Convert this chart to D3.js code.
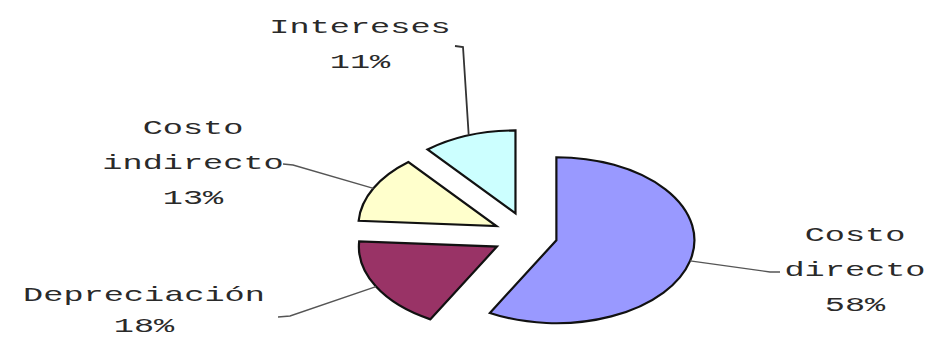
<!DOCTYPE html>
<html>
<head>
<meta charset="utf-8">
<script src="https://cdn.jsdelivr.net/npm/d3@7"></script>
<style>
  html, body { margin: 0; padding: 0; background: #fff; }
  svg { display: block; }
  .lbl { font-family: "Liberation Mono", "DejaVu Sans Mono", monospace; fill: #2a2a2a; }
</style>
</head>
<body>
<svg id="chart" width="925" height="339"></svg>
<script>
// Cost breakdown (percent of total), clockwise from 12 o'clock
const categories = ["Costo directo", "Depreciación", "Costo indirecto", "Intereses"];
const values = [58, 18, 13, 11];
const labelLines = [["Costo", "directo"], ["Depreciación"], ["Costo", "indirecto"], ["Intereses"]];
const colors = ["#9999ff", "#993366", "#ffffcc", "#ccffff"];

// Pie geometry: the pie is drawn as an ellipse (horizontal stretch sx)
const W = 925, H = 339;
const cx = 529, cy = 236;
const ry = 83, sx = 1.663;
const explode = [17, 22, 22, 24];

// Label placement: text centre x, first baseline y, line gap and leader-line elbow points
const labelLayout = [
  { x: 855, y: 241, gap: 35, elbow: [[770, 272], [780, 272]] },
  { x: 144, y: 301, gap: 31, elbow: [[290, 316], [278, 317]] },
  { x: 193, y: 134, gap: 35, elbow: [[293, 165], [283, 164]] },
  { x: 360, y: 33, gap: 35, elbow: [[463, 47], [455, 46]] }
];
const fontSize = 21;
const textSx = 1.6;

const svg = d3.select("#chart");

const pie = d3.pie().sort(null).value(d => d).startAngle(0).endAngle(2 * Math.PI);
const arcs = pie(values);
const arc = d3.arc().innerRadius(0).outerRadius(ry);

// point on the ellipse for a given angle (clockwise from top), relative to a slice centre
const ellipsePt = (a, r) => [Math.sin(a) * r * sx, -Math.cos(a) * r];

arcs.forEach((a, i) => {
  const mid = (a.startAngle + a.endAngle) / 2;
  const off = ellipsePt(mid, explode[i]);
  const sc = [cx + off[0], cy + off[1]];

  svg.append("g")
    .attr("transform", `translate(${sc[0]},${sc[1]}) scale(${sx},1)`)
    .append("path")
    .attr("d", arc(a))
    .attr("fill", colors[i])
    .attr("stroke", "#111")
    .attr("stroke-width", 2.2)
    .attr("stroke-linejoin", "miter")
    .attr("vector-effect", "non-scaling-stroke");

  // leader line from the arc at the slice's mid angle to the label
  const edge = ellipsePt(mid, ry);
  const pts = [[sc[0] + edge[0], sc[1] + edge[1]], ...labelLayout[i].elbow];
  svg.append("path")
    .attr("d", d3.line()(pts))
    .attr("fill", "none")
    .attr("stroke", i === 3 ? "#333" : "#555")
    .attr("stroke-width", i === 3 ? 1.8 : 1.4);

  // label: category name lines plus percentage
  const L = labelLayout[i];
  const lines = [...labelLines[i], values[i] + "%"];
  lines.forEach((t, k) => {
    svg.append("text")
      .attr("class", "lbl")
      .attr("transform", `translate(${L.x},${L.y + k * L.gap}) scale(${textSx},1)`)
      .attr("text-anchor", "middle")
      .attr("font-size", fontSize)
      .text(t);
  });
});
</script>
</body>
</html>
